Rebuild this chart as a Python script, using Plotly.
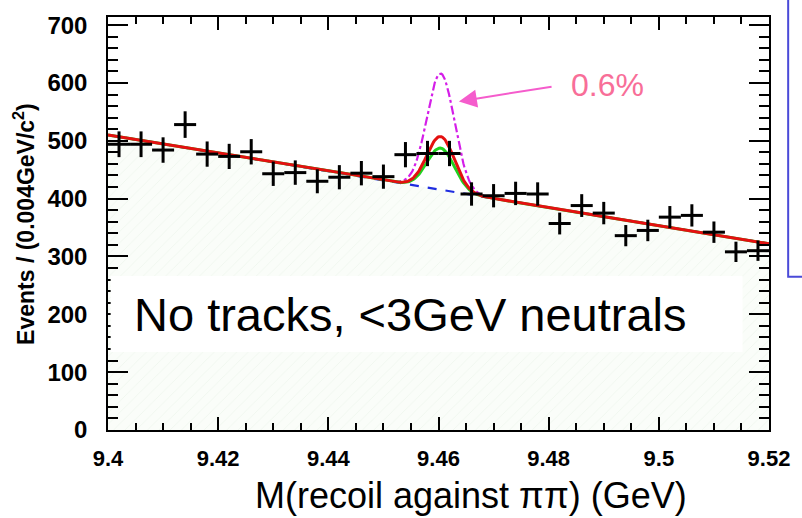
import numpy as np
import plotly.graph_objects as go

# ---- data ----
bin_centers = [9.402, 9.406, 9.410, 9.414, 9.418, 9.422, 9.426, 9.430, 9.434, 9.438,
               9.442, 9.446, 9.450, 9.454, 9.458, 9.462, 9.466, 9.470, 9.474, 9.478,
               9.482, 9.486, 9.490, 9.494, 9.498, 9.502, 9.506, 9.510, 9.514, 9.518]
counts = [494, 494, 484, 528, 477, 473, 481, 443, 445, 430,
          437, 444, 438, 476, 478, 478, 408, 405, 409, 408,
          357, 388, 375, 336, 345, 368, 371, 342, 308, 310]
bin_half_width = 0.002

# fit parameters
bg_left, bg_right = 510.0, 322.0          # linear background at 9.40 and 9.52
peak_mass, peak_sigma = 9.4604, 0.0025
amp_fit, amp_green, amp_limit = 92.0, 72.0, 201.0

x_ticks = [9.40, 9.42, 9.44, 9.46, 9.48, 9.50, 9.52]
x_tick_text = ["9.4", "9.42", "9.44", "9.46", "9.48", "9.5", "9.52"]
y_ticks = [0, 100, 200, 300, 400, 500, 600, 700]

x_min, x_max = 9.40, 9.52
xs = np.linspace(x_min, x_max, 600)
bg = bg_left + (bg_right - bg_left) * (xs - x_min) / (x_max - x_min)
gauss = np.exp(-0.5 * ((xs - peak_mass) / peak_sigma) ** 2)

fig = go.Figure()

# hatched background region
fig.add_trace(go.Scatter(
    x=xs, y=bg, mode="lines", line=dict(width=0), fill="tozeroy",
    fillcolor="#fafdf9",
    fillpattern=dict(shape="/", bgcolor="#fafdf9", fgcolor="#e3eee0", size=8, solidity=0.1),
    hoverinfo="skip", showlegend=False))

# magenta dash-dot (limit curve)
fig.add_trace(go.Scatter(x=xs, y=bg + amp_limit * gauss, mode="lines",
                         line=dict(color="#d41ee8", width=2.2, dash="dashdot"), showlegend=False))
# blue dashed background
fig.add_trace(go.Scatter(x=xs, y=bg, mode="lines",
                         line=dict(color="#1f2de0", width=2.2, dash="dash"), showlegend=False))
# green curve
fig.add_trace(go.Scatter(x=xs, y=bg + amp_green * gauss, mode="lines",
                         line=dict(color="#1fd01f", width=3), showlegend=False))
# red fit
fig.add_trace(go.Scatter(x=xs, y=bg + amp_fit * gauss, mode="lines",
                         line=dict(color="#e41010", width=3), showlegend=False))

# data crosses
fig.add_trace(go.Scatter(
    x=bin_centers, y=counts, mode="markers", marker=dict(size=0.1, color="black"),
    error_x=dict(type="constant", value=bin_half_width, thickness=3, width=0, color="black"),
    error_y=dict(type="data", array=list(np.sqrt(counts)), thickness=3, width=0, color="black"),
    showlegend=False))

x_tick_font = dict(family="Liberation Sans", size=22, color="black", weight="bold")
y_tick_font = dict(family="Liberation Sans", size=24, color="black", weight="bold")
fig.update_xaxes(range=[x_min, x_max], tickvals=x_ticks, ticktext=x_tick_text,
                 ticks="inside", ticklen=13, tickwidth=1.5, tickcolor="black",
                 showline=True, linecolor="black", linewidth=1.5, mirror="allticks",
                 showgrid=False, zeroline=False, tickfont=x_tick_font,
                 ticklabelstandoff=8,
                 minor=dict(dtick=0.005, ticks="inside", ticklen=7, tickwidth=1.5,
                            tickcolor="black", showgrid=False))
fig.update_yaxes(range=[0, 714], tickvals=y_ticks,
                 ticks="inside", ticklen=20, tickwidth=1.5, tickcolor="black",
                 showline=True, linecolor="black", linewidth=1.5, mirror="allticks",
                 showgrid=False, zeroline=False, tickfont=y_tick_font,
                 ticklabelstandoff=14,
                 minor=dict(dtick=20, ticks="inside", ticklen=10, tickwidth=1.5,
                            tickcolor="black", showgrid=False))

fig.update_layout(
    width=802, height=518, margin=dict(l=108, r=23, t=12, b=88),
    paper_bgcolor="white", plot_bgcolor="white",
    font=dict(family="Liberation Sans", color="black"),
    shapes=[
        dict(type="rect", xref="paper", yref="paper", x0=0.004, x1=0.96, y0=0.189, y1=0.373,
             fillcolor="white", line=dict(width=0), layer="above"),
        dict(type="rect", xref="paper", yref="paper", x0=1.029, x1=1.2, y0=0.371, y1=1.1,
             fillcolor="rgba(0,0,0,0)", line=dict(color="#4a4ad8", width=2)),
    ],
    annotations=[
        dict(text="No tracks, &lt;3GeV neutrals", xref="paper", yref="paper",
             x=0.0358, y=0.28, xanchor="left", yanchor="middle", showarrow=False,
             font=dict(family="Liberation Sans", size=47, color="black")),
        dict(text="M(recoil against \u03c0\u03c0) (GeV)", xref="paper", yref="paper",
             x=0.549, y=-0.158, xanchor="center", yanchor="middle", showarrow=False,
             font=dict(family="Liberation Sans", size=36, color="black")),
        dict(text="<b>Events / (0.004GeV/c<sup>2</sup>)</b>", xref="paper", yref="paper",
             x=-0.128, y=0.5, xanchor="center", yanchor="middle", textangle=-90, showarrow=False,
             font=dict(family="Liberation Sans", size=23, color="black")),
        dict(text="", x=9.4637, y=568, ax=9.4808, ay=594, xref="x", yref="y",
             axref="x", ayref="y", showarrow=True, arrowhead=2, arrowsize=1.8,
             arrowwidth=2, arrowcolor="#f55ccc"),
        dict(text="0.6%", x=9.4907, y=597, xref="x", yref="y", showarrow=False,
             xanchor="center", yanchor="middle",
             font=dict(family="Liberation Sans", size=32, color="#f86e98")),
    ],
)

fig.write_html("out.html")
